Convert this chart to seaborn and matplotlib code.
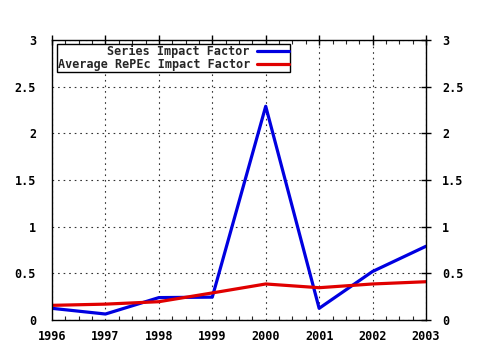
import matplotlib
matplotlib.use("Agg")
import matplotlib.pyplot as plt
import seaborn as sns
import pandas as pd
from matplotlib.ticker import MultipleLocator
from matplotlib.lines import Line2D

years = [1996, 1997, 1998, 1999, 2000, 2001, 2002, 2003]
series_if = [0.125, 0.064, 0.24, 0.245, 2.29, 0.125, 0.52, 0.79]
average_if = [0.157, 0.17, 0.196, 0.29, 0.386, 0.346, 0.386, 0.41]
labels = ["Series Impact Factor", "Average RePEc Impact Factor"]
y_ticks = [0, 0.5, 1, 1.5, 2, 2.5, 3]
y_tick_labels = ["0", "0.5", "1", "1.5", "2", "2.5", "3"]

df = pd.DataFrame({
    "year": years * 2,
    "value": series_if + average_if,
    "series": [labels[0]] * len(years) + [labels[1]] * len(years),
})

sns.set_style("white")
plt.rcParams["font.family"] = ["DejaVu Sans Mono"]
plt.rcParams["font.weight"] = "bold"

fig = plt.figure(figsize=(4.8, 3.5), dpi=100)
ax = fig.add_axes([52 / 480, 1 - 320 / 350, (426 - 52) / 480, (320 - 40) / 350])

sns.lineplot(data=df, x="year", y="value", hue="series",
             palette={labels[0]: "#0000e0", labels[1]: "#e00000"},
             linewidth=2.3, ax=ax, legend=False)

ax.set_xlim(1996, 2003)
ax.set_ylim(0, 3)
ax.set_xlabel("")
ax.set_ylabel("")
ax.set_xticks(years)
ax.set_xticklabels([str(y) for y in years])
ax.set_yticks(y_ticks)
ax.set_yticklabels(y_tick_labels)
ax.xaxis.set_minor_locator(MultipleLocator(0.25))

for s in ax.spines.values():
    s.set_color("black")
    s.set_linewidth(1.0)

ax.grid(True, which="major", color="#333333", linestyle=(0, (1.5, 3.5)), linewidth=0.8)
ax.tick_params(axis="both", which="major", direction="inout", length=7, width=1,
               labelsize=8.5, colors="black", top=True, right=True,
               labelright=True, pad=4)
ax.tick_params(axis="x", which="minor", direction="in", length=3, width=0.8,
               top=True, bottom=True)
for lab in ax.get_xticklabels() + ax.get_yticklabels():
    lab.set_fontweight("bold")
ax.tick_params(axis="y", which="major", pad=8)

handles = [Line2D([], [], color="#0000e0", lw=2.3),
           Line2D([], [], color="#e00000", lw=2.3)]
leg = ax.legend(handles, labels, loc="upper left",
                bbox_to_anchor=(57 / 480, 1 - 44 / 350),
                bbox_transform=fig.transFigure,
                markerfirst=False, frameon=True, fancybox=False,
                framealpha=1, edgecolor="black", borderpad=0.05,
                labelspacing=0.05, handlelength=2.7, handletextpad=0.6,
                borderaxespad=0, prop={"family": "DejaVu Sans Mono",
                                       "weight": "bold", "size": 8.5})
leg.get_frame().set_linewidth(1.0)

fig.savefig("out.png", dpi=100)
